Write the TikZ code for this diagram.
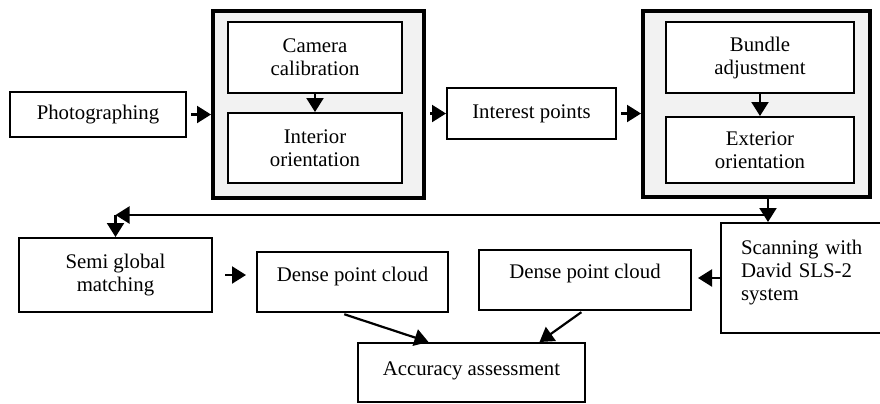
\documentclass[tikz,border=0pt]{standalone}
\usepackage{fontspec}
\setmainfont{Liberation Serif}
\usetikzlibrary{arrows.meta, positioning}
\tikzstyle{stepbox} = [
  rectangle,
  text centered,
  align=center,
  draw=black,
  line width=1pt,
  inner sep=0,
  fill=white,
  font=\fontsize{10.4}{11.5}\selectfont
]
\tikzstyle{groupbox} = [
  rectangle,
  draw=black,
  line width=2pt,
  inner sep=0,
  fill=black!5
]
\tikzstyle{arrow} = [
  line width=1.1pt,
  -{Triangle[length=7pt,width=8.5pt]}
]

\begin{document}
\begin{tikzpicture}[x=0.5pt, y=-0.5pt]
      \useasboundingbox (0,0) rectangle (880,403);

      \node [stepbox, minimum width=88pt, minimum height=22.5pt] (photo) at (98,114.5) {Photographing};
      \node [groupbox, minimum width=105.5pt, minimum height=93.5pt] (grp1) at (318.5,104.5) {};
      \node [stepbox, minimum width=87pt, minimum height=35.5pt] (cam) at (315,57.5) {Camera\\calibration};
      \node [stepbox, minimum width=87pt, minimum height=35pt] (int) at (315,148) {Interior\\orientation};
      \node [stepbox, minimum width=84.5pt, minimum height=25.5pt] (intp) at (531.5,113.5) {Interest points};
      \node [groupbox, minimum width=113.5pt, minimum height=93pt] (grp2) at (756.5,104) {};
      \node [stepbox, minimum width=94pt, minimum height=35.5pt] (bund) at (760,57.5) {Bundle\\adjustment};
      \node [stepbox, minimum width=94pt, minimum height=33pt] (ext) at (760,150) {Exterior\\orientation};

      \node [stepbox, minimum width=96.5pt, minimum height=37pt] (sgm) at (115.5,275) {Semi global\\matching};
      \node [stepbox, minimum width=95.5pt, minimum height=30pt, text depth=8pt] (dpc1) at (352.5,282) {Dense point cloud};
      \node [stepbox, minimum width=106pt, minimum height=30pt, text depth=9pt] (dpc2) at (585,280) {Dense point cloud};
      \node [stepbox, text width=70pt, align=left, inner xsep=10pt, minimum height=55pt, text depth=31pt] (scan) at (811,278) {Scanning with\\David SLS-2\\system};
      \node [stepbox, minimum width=113.5pt, minimum height=29.5pt, text depth=4pt] (acc) at (471.5,372.5) {Accuracy assessment};

      \coordinate (split) at (768,215);
      \coordinate (turn) at (sgm.north |- split);

      \draw [arrow, shorten <=2pt] (photo.east) -- (photo.east -| grp1.west);
      \draw [arrow] (cam) -- (int);
      \draw [arrow, shorten <=2pt] (intp.west -| grp1.east) -- (intp.west);
      \draw [arrow, shorten <=2pt] (intp.east) -- (intp.east -| grp2.west);
      \draw [arrow] (bund) -- (ext);
      \draw [arrow] (grp2.south -| split) -- (scan.north -| split);
      \draw [arrow] (split) -- (turn);
      \draw [arrow] (turn) -- (sgm.north);
      \draw [arrow, shorten <=6pt, shorten >=5pt] (sgm.east) -- (sgm.east -| dpc1.west);
      \draw [arrow, shorten >=3pt] (scan.west) -- (scan.west -| dpc2.east);
      \draw [arrow, shorten <=2pt] ([xshift=-6pt]dpc1.south) -- ([xshift=-21.5pt]acc.north);
      \draw [arrow, shorten <=1pt] ([xshift=-1pt]dpc2.south) -- ([xshift=34pt]acc.north);

    \end{tikzpicture}
\end{document}
